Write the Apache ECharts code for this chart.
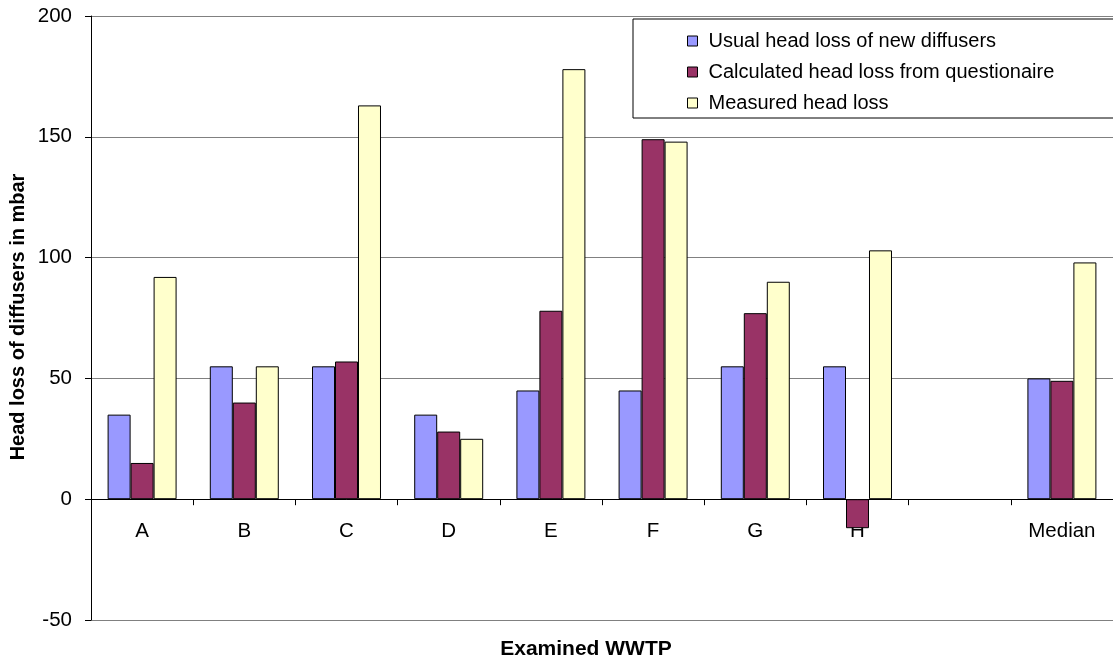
<!DOCTYPE html>
<html>
<head>
<meta charset="utf-8">
<script src="https://cdn.jsdelivr.net/npm/echarts@6/dist/echarts.min.js"></script>
<style>
  html, body { margin: 0; padding: 0; background: #fff; }
  #chart { width: 1113px; height: 661px; }
</style>
</head>
<body>
<div id="chart"></div>
<script>
// Examined treatment plants (one empty slot before the median)
const categories = ['A', 'B', 'C', 'D', 'E', 'F', 'G', 'H', '', 'Median'];

// Head loss of diffusers in mbar
const usualNew   = [35, 55, 55, 35, 45, 45, 55, 55, null, 50];
const calculated = [15, 40, 57, 28, 78, 149, 77, -12, null, 49];
const measured   = [92, 55, 163, 25, 178, 148, 90, 103, null, 98];

const seriesNames = [
  'Usual head loss of new diffusers',
  'Calculated head loss from questionaire',
  'Measured head loss'
];
const seriesColors = ['#9999FF', '#993366', '#FFFFCC'];

const Y_MIN = -50, Y_MAX = 200, Y_STEP = 50;

const FONT = '"Liberation Sans", Arial, sans-serif';

const GRID = { left: 91, right: 0, top: 16, bottom: 41 };
const plotHeight = 661 - GRID.top - GRID.bottom;
// lift the category axis from the plot bottom up to the zero line
const zeroOffset = -plotHeight * (0 - Y_MIN) / (Y_MAX - Y_MIN);

const chart = echarts.init(document.getElementById('chart'), null, { renderer: 'canvas' });

function barSeries(name, data, color) {
  return {
    name: name,
    type: 'bar',
    data: data,
    barGap: '0%',
    barCategoryGap: '32.5%',
    itemStyle: { color: color, borderColor: '#000', borderWidth: 1 },
    emphasis: { disabled: true }
  };
}

chart.setOption({
  animation: false,
  grid: Object.assign({ containLabel: false }, GRID),
  legend: {
    left: 633,
    top: 19,
    orient: 'vertical',
    padding: [12, 140, 5, 54],
    itemGap: 11,
    itemWidth: 10,
    itemHeight: 10,
    icon: 'rect',
    borderColor: '#000',
    borderWidth: 1,
    backgroundColor: '#fff',
    textStyle: { fontFamily: FONT, fontSize: 20, color: '#000', padding: [0, 0, 0, 6] },
    itemStyle: { borderColor: '#000', borderWidth: 1 },
    data: seriesNames
  },
  xAxis: {
    type: 'category',
    data: categories,
    offset: zeroOffset,
    axisLine: { onZero: false, lineStyle: { color: '#000', width: 1 } },
    axisTick: { show: true, length: 6, lineStyle: { color: '#000' } },
    axisLabel: { fontFamily: FONT, fontSize: 20.5, color: '#000', margin: 22 },
    splitLine: { show: false }
  },
  yAxis: {
    type: 'value',
    min: Y_MIN,
    max: Y_MAX,
    interval: Y_STEP,
    axisLine: { show: true, lineStyle: { color: '#000', width: 1 } },
    axisTick: { show: true, length: 6, lineStyle: { color: '#000' } },
    axisLabel: { fontFamily: FONT, fontSize: 20.5, color: '#000', margin: 19 },
    splitLine: { show: true, lineStyle: { color: '#808080', width: 1 } }
  },
  graphic: [
    {
      type: 'text',
      x: 18, y: 317,
      rotation: Math.PI / 2,
      style: {
        text: 'Head loss of diffusers in mbar',
        fontFamily: FONT, fontSize: 20, fontWeight: 'bold', fill: '#000',
        textAlign: 'center', textVerticalAlign: 'middle'
      }
    },
    {
      type: 'text',
      x: 586, y: 649,
      style: {
        text: 'Examined WWTP',
        fontFamily: FONT, fontSize: 21, fontWeight: 'bold', fill: '#000',
        textAlign: 'center', textVerticalAlign: 'middle'
      }
    }
  ],
  series: [
    barSeries(seriesNames[0], usualNew, seriesColors[0]),
    barSeries(seriesNames[1], calculated, seriesColors[1]),
    barSeries(seriesNames[2], measured, seriesColors[2])
  ]
});
</script>
</body>
</html>
